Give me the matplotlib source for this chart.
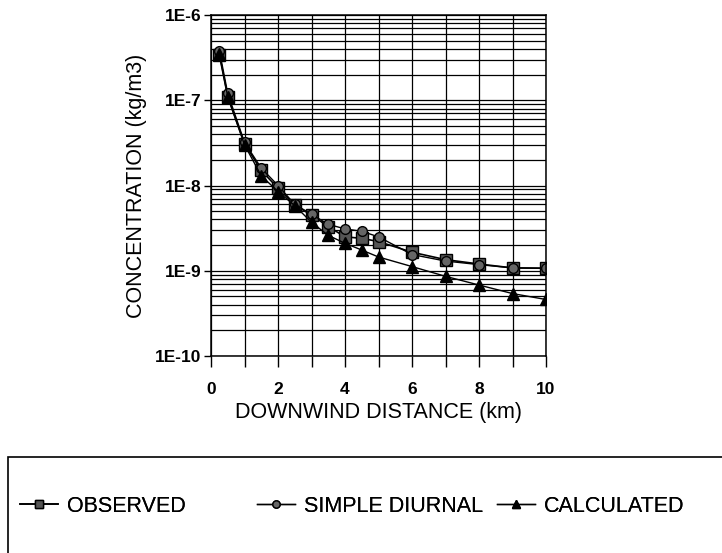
import matplotlib
matplotlib.use("Agg")
import matplotlib.pyplot as plt
from matplotlib.ticker import FixedLocator, LogLocator, NullFormatter, FixedFormatter
from matplotlib.patches import Rectangle

plt.rcParams['font.family'] = ['Liberation Sans', 'DejaVu Sans']

distance = [0.25, 0.5, 1, 1.5, 2, 2.5, 3, 3.5, 4, 4.5, 5, 6, 7, 8, 9, 10]
observed = [3.4e-7, 1.1e-7, 3.1e-8, 1.5e-8, 9.3e-9, 5.9e-9, 4.5e-9, 3.3e-9,
            2.5e-9, 2.4e-9, 2.2e-9, 1.65e-9, 1.35e-9, 1.2e-9, 1.08e-9, 1.07e-9]
simple_diurnal = [3.8e-7, 1.2e-7, 3.2e-8, 1.6e-8, 1.0e-8, 6.0e-9, 4.6e-9, 3.5e-9,
                  3.1e-9, 2.9e-9, 2.5e-9, 1.55e-9, 1.3e-9, 1.18e-9, 1.08e-9, 1.07e-9]
calculated = [3.5e-7, 1.1e-7, 3.0e-8, 1.3e-8, 8.5e-9, 5.8e-9, 3.7e-9, 2.6e-9,
              2.1e-9, 1.75e-9, 1.45e-9, 1.12e-9, 8.6e-10, 6.8e-10, 5.4e-10, 4.6e-10]
x_ticks = [0, 2, 4, 6, 8, 10]
y_ticks = [1e-10, 1e-9, 1e-8, 1e-7, 1e-6]
y_tick_labels = ['1E-10', '1E-9', '1E-8', '1E-7', '1E-6']
series_names = ['OBSERVED', 'SIMPLE DIURNAL', 'CALCULATED']

fig = plt.figure(figsize=(7.22, 5.53), dpi=100)
ax = fig.add_axes([211/722, 1-356/553, (546-211)/722, (356-15)/553])
ax.set_yscale('log')
ax.set_xlim(0, 10)
ax.set_ylim(1e-10, 1e-6)

# grid
ax.yaxis.set_major_locator(FixedLocator(y_ticks))
ax.yaxis.set_major_formatter(FixedFormatter(y_tick_labels))
ax.yaxis.set_minor_locator(LogLocator(base=10, subs=range(2, 10)))
ax.yaxis.set_minor_formatter(NullFormatter())
ax.xaxis.set_major_locator(FixedLocator(x_ticks))
ax.xaxis.set_minor_locator(FixedLocator([1, 3, 5, 7, 9]))
ax.grid(True, which='both', color='black', lw=0.9)
ax.set_axisbelow(True)
ax.tick_params(axis='x', which='both', direction='out', length=8, width=1, pad=11)
ax.tick_params(axis='y', which='major', direction='out', length=5, width=1, pad=2)
ax.tick_params(axis='y', which='minor', length=0)
for lab in ax.get_xticklabels() + ax.get_yticklabels():
    lab.set_fontweight('bold')
    lab.set_fontsize(12.5)
for s in ax.spines.values():
    s.set_linewidth(1.1)

l1, = ax.plot(distance, observed, '-', color='black', lw=1.2, marker='s', ms=8,
              mfc='#555555', mec='black', mew=1)
l2, = ax.plot(distance, simple_diurnal, '-', color='black', lw=1.0, marker='o', ms=7,
              mfc='#666666', mec='black', mew=1)
l3, = ax.plot(distance, calculated, '-', color='black', lw=1.0, marker='^', ms=8,
              mfc='black', mec='black', mew=1)

ax.set_xlabel('DOWNWIND DISTANCE (km)', fontsize=15.5, labelpad=3)
ax.set_ylabel('CONCENTRATION (kg/m3)', fontsize=15.5, labelpad=6)

# legend box
fig.patches.append(Rectangle((8/722, -0.05), 1.1, 0.05 + (1-457/553), transform=fig.transFigure,
                             fill=False, edgecolor='black', lw=1.2))
handles = [l1, l2, l3]
positions = [20/722, 257/722, 497/722]
for h, name, px in zip(handles, series_names, positions):
    leg = fig.legend([h], [name], loc='center left', bbox_to_anchor=(px, 1-506/553),
                     frameon=False, fontsize=15.5, handlelength=1.75, handletextpad=0.45,
                     borderaxespad=0, borderpad=0, markerscale=0.75)
    fig.add_artist(leg)

fig.savefig('out.png', dpi=100)
